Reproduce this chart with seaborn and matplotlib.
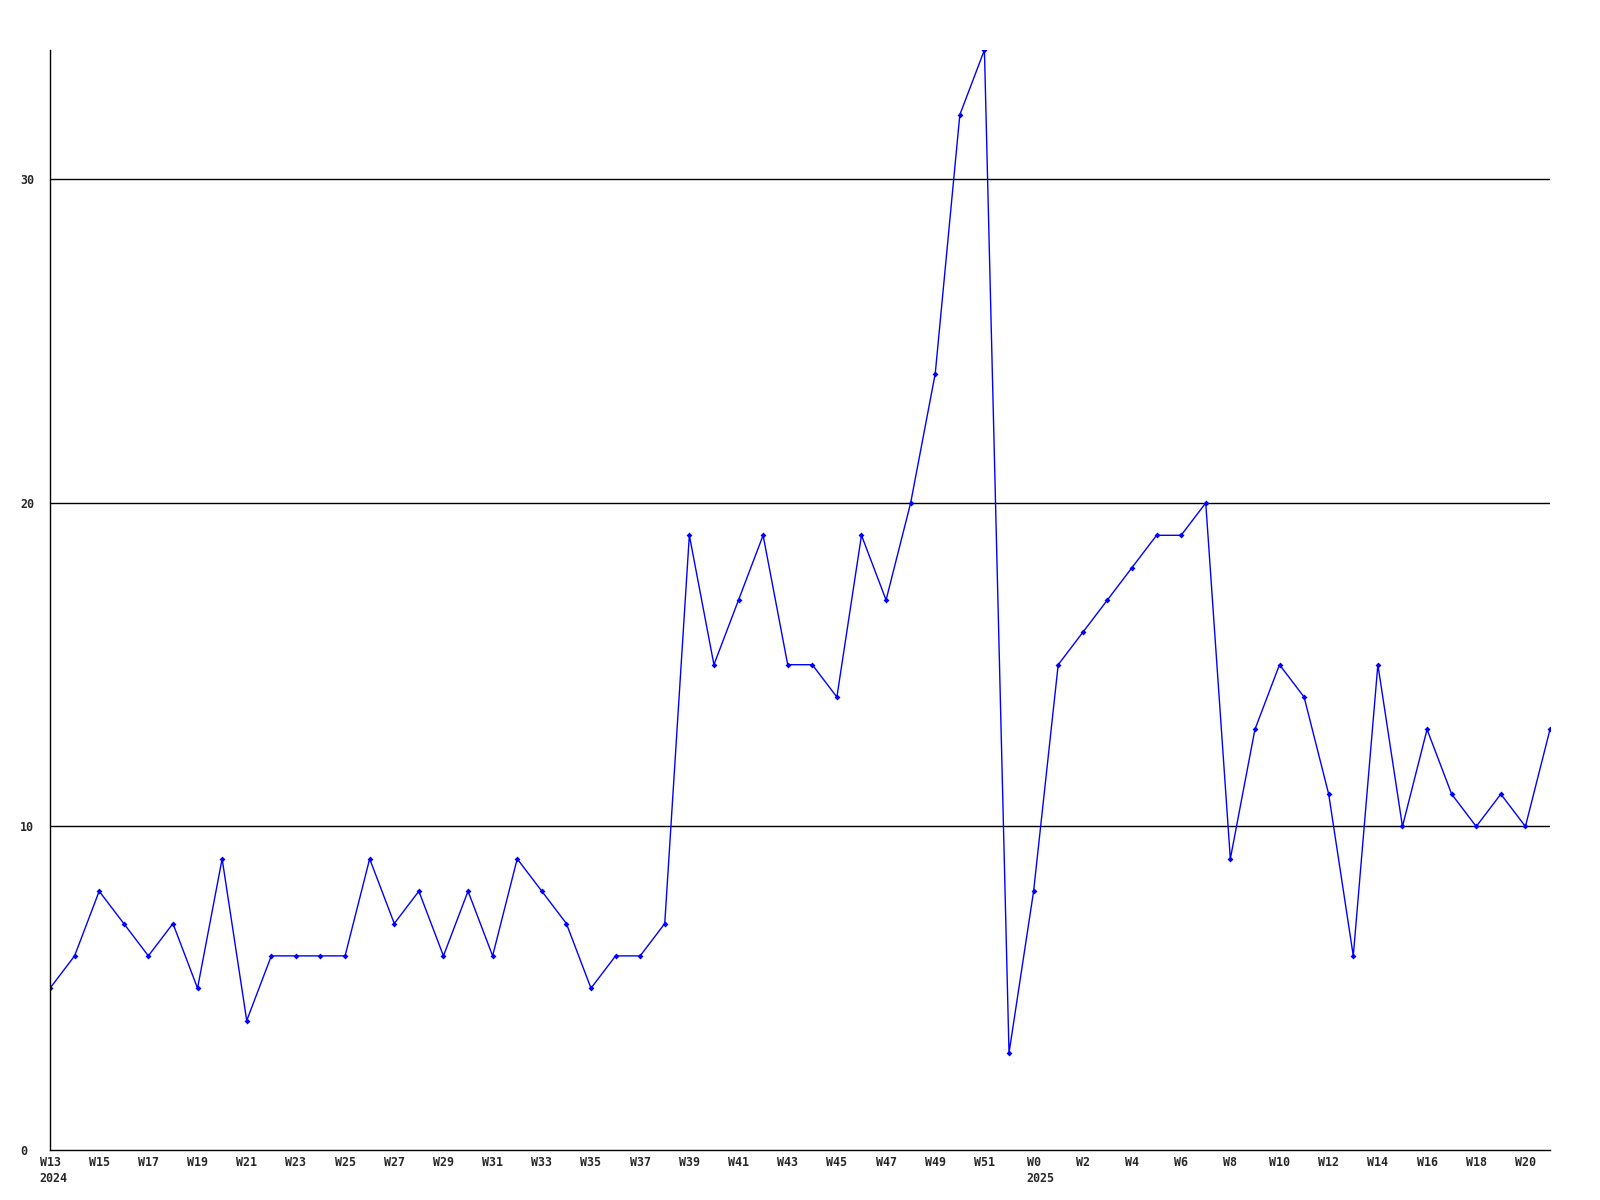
import numpy as np
import pandas as pd
import matplotlib
matplotlib.use('Agg')
import matplotlib.pyplot as plt
import seaborn as sns

# weekly values, W13 2024 .. W21 2025
weeks_2024 = [f"W{w}" for w in range(13, 53)]
weeks_2025 = [f"W{w}" for w in range(0, 22)]
weeks = weeks_2024 + weeks_2025

values_2024 = [5, 6, 8, 7, 6, 7, 5, 9, 4, 6,
               6, 6, 6, 9, 7, 8, 6, 8, 6, 9,
               8, 7, 5, 6, 6, 7, 19, 15, 17, 19,
               15, 15, 14, 19, 17, 20, 24, 32, 34, 3]
values_2025 = [8, 15, 16, 17, 18, 19, 19, 20, 9, 13,
               15, 14, 11, 6, 15, 10, 13, 11, 10, 11,
               10, 13]
values = values_2024 + values_2025

years = {'W13': '2024', 'W0': '2025'}
y_ticks = [0, 10, 20, 30]

df = pd.DataFrame({'idx': np.arange(len(weeks)), 'week': weeks, 'value': values})

sns.set_style('white')
plt.rcParams['font.family'] = ['DejaVu Sans Mono']
FS = 8.4

fig = plt.figure(figsize=(16, 12), dpi=100)
ax = fig.add_axes([50 / 1600, 50 / 1200, 1500 / 1600, 1100 / 1200])

sns.lineplot(data=df, x='idx', y='value', ax=ax, color='#0000ff', lw=1,
             marker='D', markersize=3, markeredgewidth=0, markerfacecolor='#0000ff')

ax.set_xlim(0, len(weeks) - 1)
ax.set_ylim(0, max(values))

for yv in y_ticks[1:]:
    ax.axhline(yv, color='black', lw=1, zorder=0)

ax.set_yticks(y_ticks)
ax.set_yticklabels([str(v) for v in y_ticks], fontsize=FS, fontweight='bold')
for lbl in ax.get_yticklabels():
    lbl.set_horizontalalignment('left')
ax.tick_params(axis='y', length=0, pad=21.6)

tick_pos = list(range(0, len(weeks), 2))
ax.set_xticks(tick_pos)
ax.set_xticklabels([weeks[i] for i in tick_pos], fontsize=FS, fontweight='bold')
ax.tick_params(axis='x', length=0, pad=4)

# year under the first week of each year, left-aligned with the week label
char_px = 7
for i, w in enumerate(weeks):
    if w in years and i in tick_pos:
        dx = -len(w) * char_px / 2 * 0.72
        ax.annotate(years[w], xy=(i, 0), xycoords=('data', 'axes fraction'),
                    xytext=(dx, -15.5), textcoords='offset points',
                    ha='left', va='top', fontsize=FS, fontweight='bold')

ax.set_xlabel('')
ax.set_ylabel('')
for s in ['top', 'right']:
    ax.spines[s].set_visible(False)
for s in ['left', 'bottom']:
    ax.spines[s].set_color('black')
    ax.spines[s].set_linewidth(1)

fig.savefig('out.png', dpi=100, facecolor='white')
